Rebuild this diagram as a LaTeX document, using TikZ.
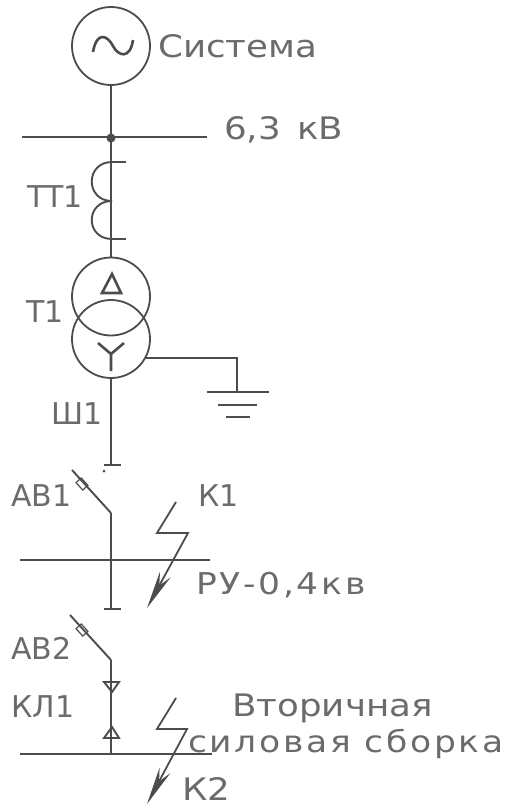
\documentclass[tikz,border=0pt]{standalone}
\usepackage{fontspec}
\setmainfont[FakeStretch=1.15]{DejaVu Sans}
\newfontfamily\narrowfont{DejaVu Sans}
\newfontfamily\widefont[FakeStretch=1.15,LetterSpace=9]{DejaVu Sans}
\usetikzlibrary{arrows.meta}
\definecolor{wirecol}{gray}{0.3}
\definecolor{labelcol}{gray}{0.42}
\tikzset{
  wire/.style={draw=wirecol, line width=2.6pt},
  thin wire/.style={draw=wirecol, line width=1.9pt},
  winding/.style={circle, draw=wirecol, line width=1.8pt, minimum size=78pt, inner sep=0pt},
  lab/.style={anchor=west, inner sep=0pt, text=labelcol, font=\fontsize{31}{33}\selectfont},
  shortlab/.style={lab, font=\narrowfont\fontsize{30}{32}\selectfont},
  widelab/.style={lab, font=\widefont\fontsize{30}{32}\selectfont},
  contact/.style={draw=wirecol, line width=1.2pt, minimum width=10pt, minimum height=7pt, inner sep=0pt},
  bolt/.style={draw=wirecol, line width=1.8pt, -{Stealth[length=38pt, width=12pt, wirecol]}}
}
\begin{document}
\begin{tikzpicture}[x=1pt, y=-1pt]
  \useasboundingbox (0,0) rectangle (515,807);
  % supply and 6,3 kV bus
  \node[winding] (gen) at (111,46) {};
  \draw[wire] (93,52) .. controls (97,30) and (108,36) .. (113,46) .. controls (118,56) and (130,60) .. (133,40);
  \node[lab] (gen lab) at (158,46) {Система};
  \coordinate (bus1 l) at (22,137);
  \coordinate (bus1 r) at (207,137);
  \coordinate (bus1 j) at (111,138);
  \draw[wire] (bus1 l) -- (bus1 r);
  \draw[wire] (gen) -- (bus1 j);
  \fill[wirecol] (bus1 j) circle (4.5pt);
  \node[lab] (bus1 lab) at (224,130) {6,3 \,кВ};
  % current transformer
  \node[winding] (t1 up) at (111,296.5) {};
  \node[winding] (t1 down) at (111,339) {};
  \coordinate (tt top) at (112,162);
  \coordinate (tt mid) at (112,201);
  \coordinate (tt bot) at (112,239);
  \draw[wire] (bus1 j) -- (t1 up);
  \draw[thin wire] (tt top) -- ++(14,0) (tt bot) -- ++(14,0);
  \draw[thin wire] (tt top) .. controls (85,162) and (85,201) .. (tt mid);
  \draw[thin wire] (tt mid) .. controls (85,201) and (85,239) .. (tt bot);
  \node[shortlab] (tt lab) at (27,197) {ТТ1};
  % power transformer
  \draw[wire] (112,274) -- (102,293) -- (121,293) -- cycle;
  \draw[wire] (98,343) -- (111,354) -- (124,343) (111,354) -- (111,371);
  \node[shortlab] (t1 lab) at (26,312) {Т1};
  % earth
  \coordinate (earth) at (237,392);
  \draw[thin wire] (t1 down.-28) -| (earth);
  \draw[wire] (207,392) -- (269,392);
  \draw[wire] (218,405) -- (257,405);
  \draw[wire] (226,417) -- (250,417);
  % Sh1 and AV1
  \coordinate (sh end) at (111,465);
  \draw[wire] (t1 down) ++(0,38.5) -- (sh end);
  \draw[thin wire] (104,465) -- (121,465);
  \fill[wirecol] (104,471) circle (1.5pt);
  \node[shortlab] (sh lab) at (51,414) {Ш1};
  \coordinate (av1 a) at (72,470);
  \coordinate (av1 b) at (111,513);
  \coordinate (ru end) at (111,609);
  \draw[thin wire] (av1 a) -- (av1 b);
  \draw[wire] (av1 b) -- (ru end);
  \draw[thin wire] (104,609) -- (121,609);
  \node[contact, rotate=-48] (av1 c) at (82,484) {};
  \node[shortlab] (av1 lab) at (11,496) {АВ1};
  % RU bus and K1
  \coordinate (bus2 l) at (20,560);
  \coordinate (bus2 r) at (210,560);
  \draw[wire] (bus2 l) -- (bus2 r);
  \coordinate (k1 a) at (176,502);
  \coordinate (k1 b) at (157,533);
  \coordinate (k1 c) at (188,533);
  \coordinate (k1 d) at (147,608);
  \draw[bolt] (k1 a) -- (k1 b) -- (k1 c) -- (k1 d);
  \node[shortlab] (k1 lab) at (198,496) {К1};
  \node[widelab] (ru lab) at (196,585) {РУ-0,4кв};
  % AV2 and cable
  \coordinate (av2 a) at (70,615);
  \coordinate (av2 b) at (111,660);
  \coordinate (bus3 j) at (111,754);
  \draw[thin wire] (av2 a) -- (av2 b);
  \draw[wire] (av2 b) -- (bus3 j);
  \node[contact, rotate=-48] (av2 c) at (82,630) {};
  \draw[thin wire] (104,682) -- (119,682) -- (112,692) -- cycle;
  \draw[thin wire] (104,738) -- (119,738) -- (112,727) -- cycle;
  \node[shortlab] (av2 lab) at (11,648) {АВ2};
  \node[shortlab] (kl lab) at (11,707) {КЛ1};
  % secondary assembly and K2
  \coordinate (bus3 l) at (20,754);
  \coordinate (bus3 r) at (212,754);
  \draw[wire] (bus3 l) -- (bus3 r);
  \coordinate (k2 a) at (176,698);
  \coordinate (k2 b) at (157,729);
  \coordinate (k2 c) at (187,729);
  \coordinate (k2 d) at (147,804);
  \draw[bolt] (k2 a) -- (k2 b) -- (k2 c) -- (k2 d);
  \node[lab] (k2 lab) at (182,789) {К2};
  \node[lab] (sec lab) at (232,708) {Вторичная};
  \node[widelab] (asm lab) at (188,744) {силовая сборка};
\end{tikzpicture}
\end{document}
